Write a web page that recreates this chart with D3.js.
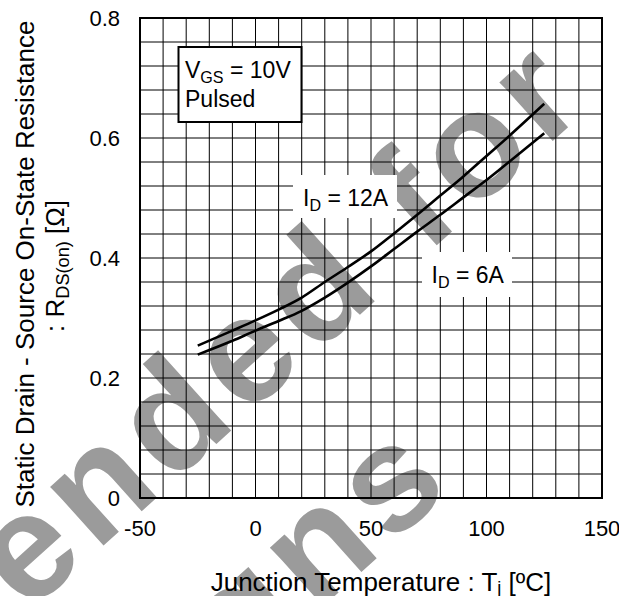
<!DOCTYPE html>
<html><head><meta charset="utf-8">
<script src="https://cdn.jsdelivr.net/npm/d3@7/dist/d3.min.js"></script>
<style>
body{margin:0;background:#fff}
svg{display:block}
text{font-family:"Liberation Sans",Arial,Helvetica,sans-serif;fill:#000}
</style>
</head><body>
<svg id="chart" width="619" height="596"></svg>
<script>
// ---- data ----
const temps = [-25,-10,0,10,20,30,40,50,60,70,80,90,100,110,125];
const rds12A = [0.254,0.279,0.296,0.314,0.334,0.360,0.385,0.411,0.441,0.472,0.504,0.536,0.570,0.604,0.657];
const rds6A  = [0.239,0.262,0.279,0.295,0.312,0.334,0.359,0.386,0.415,0.444,0.472,0.501,0.530,0.561,0.608];
const xTicks = [-50,0,50,100,150];
const yTicks = [0,0.2,0.4,0.6,0.8];
const xGridStep = 10;
const yGridStep = 0.04;
const watermarkLines = ["Not recommended for","new designs"];

const svg = d3.select("#chart");
const L=140,R=602,T=18,B=498;
const x = d3.scaleLinear().domain([-50,150]).range([L,R]);
const y = d3.scaleLinear().domain([0,0.8]).range([B,T]);

// watermark (under everything)
const wm = svg.append("g").style("font-weight","bold").style("font-size","150px").attr("letter-spacing",9);
wm.append("text").attr("text-anchor","end").style("fill","#9b9b9b")
  .attr("transform","translate(595,103) rotate(-42)").text(watermarkLines[0]);
wm.append("text").attr("text-anchor","end").style("fill","#9b9b9b")
  .attr("transform","translate(459,484) rotate(-42)").text(watermarkLines[1]);

// grid
const xg = d3.range(-50,150+1e-9,xGridStep);
const yg = d3.range(0,0.8+1e-9,yGridStep);
const grid = svg.append("g").attr("stroke","#000").attr("stroke-width",1);
grid.selectAll("line.v").data(xg).join("line").attr("class","v")
  .attr("x1",d=>x(d)).attr("x2",d=>x(d)).attr("y1",T).attr("y2",B);
grid.selectAll("line.h").data(yg).join("line").attr("class","h")
  .attr("y1",d=>y(d)).attr("y2",d=>y(d)).attr("x1",L).attr("x2",R);

// frame
svg.append("rect").attr("x",L).attr("y",T).attr("width",R-L).attr("height",B-T)
  .attr("fill","none").attr("stroke","#000").attr("stroke-width",2);

// tick labels
svg.append("g").selectAll("text").data(yTicks).join("text")
  .attr("x",120).attr("y",d=>y(d)+8).attr("text-anchor","end").style("font-size","22px")
  .text(d=>d===0?"0":d3.format(".1f")(d));
svg.append("g").selectAll("text").data(xTicks).join("text")
  .attr("x",d=>x(d)).attr("y",536).attr("text-anchor","middle").style("font-size","22px")
  .text(d=>d);

// label boxes
svg.append("rect").attr("x",293).attr("y",175).attr("width",104).attr("height",43).attr("fill","#fff");
svg.append("rect").attr("x",422).attr("y",252).attr("width",90).attr("height",45).attr("fill","#fff");
svg.append("rect").attr("x",178.5).attr("y",47).attr("width",123).attr("height",75)
  .attr("fill","#fff").attr("stroke","#000").attr("stroke-width",2);

// curves
const line = d3.line().x(d=>x(d[0])).y(d=>y(d[1])).curve(d3.curveMonotoneX);
[rds12A,rds6A].forEach(s=>{
  svg.append("path").datum(temps.map((t,i)=>[t,s[i]])).attr("d",line)
    .attr("fill","none").attr("stroke","#000").attr("stroke-width",2.6);
});

function sub(t, main, subTxt, rest, dy){
  dy = dy||5;
  t.append("tspan").text(main);
  t.append("tspan").attr("dy",dy).style("font-size","0.7em").text(subTxt);
  t.append("tspan").attr("dy",-dy).text(rest);
}
// annotations
let t1 = svg.append("text").attr("x",185).attr("y",78).style("font-size","23px");
sub(t1,"V","GS"," = 10V");
svg.append("text").attr("x",185).attr("y",107).style("font-size","23px").text("Pulsed");
let t2 = svg.append("text").attr("x",303).attr("y",205.5).style("font-size","23px");
sub(t2,"I","D"," = 12A");
let t3 = svg.append("text").attr("x",431.5).attr("y",282.5).style("font-size","23px");
sub(t3,"I","D"," = 6A");

// axis titles
let xt = svg.append("text").attr("x",381).attr("y",591).attr("text-anchor","middle").style("font-size","26px");
sub(xt,"Junction Temperature : T","j"," [ºC]",3);
svg.append("text").attr("transform","translate(34,264) rotate(-90)").attr("text-anchor","middle")
  .style("font-size","26px").text("Static Drain - Source On-State Resistance");
let yt = svg.append("text").attr("transform","translate(64,266) rotate(-90)").attr("text-anchor","middle").style("font-size","26px");
sub(yt,": R","DS(on)"," [Ω]");
</script>
</body></html>
